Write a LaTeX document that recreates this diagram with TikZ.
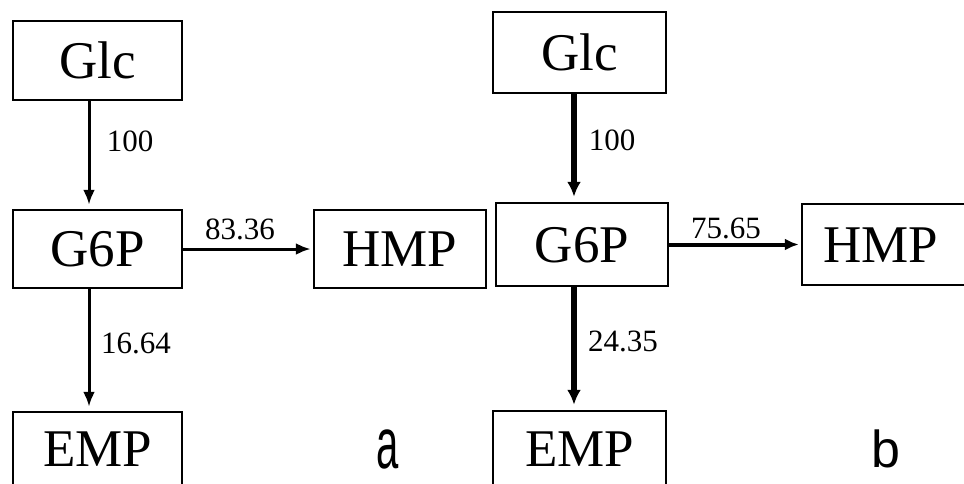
\documentclass[tikz,border=0pt]{standalone}
\usepackage{fontspec}
\setmainfont{Liberation Serif}
\newfontfamily\sansf{Liberation Sans}
\usetikzlibrary{arrows.meta}
\begin{document}
\begin{tikzpicture}[x=1pt,y=-1pt,
  box/.style={draw=black, line width=2.5pt, inner sep=0pt,
    font=\fontsize{53}{60}\selectfont, text height=35pt, text depth=0pt},
  flowA/.style={line width=3pt, -{Latex[length=15pt,width=12pt]}, shorten >=4pt},
  flowB/.style={line width=5.5pt, -{Latex[length=15pt,width=14pt]}, shorten >=5pt},
  flowBh/.style={line width=4pt, -{Latex[length=14pt,width=12pt]}, shorten >=2pt},
  val/.style={font=\fontsize{31}{36}\selectfont, inner sep=0pt},
  panel/.style={inner sep=0pt, font=\sansf\fontsize{40}{48}\selectfont},
]
\useasboundingbox (0,0) rectangle (964,483);
\clip (0,0) rectangle (964,483);
\fill[white] (0,0) rectangle (964,483);

% panel a
\node[box, minimum width=169pt, minimum height=79pt] (glcA) at (97.5,60.5) {Glc};
\node[box, minimum width=169pt, minimum height=78pt] (g6pA) at (97.5,249) {G6P};
\node[box, minimum width=172pt, minimum height=78pt] (hmpA) at (400,249) {HMP};
\node[box, minimum width=169pt, minimum height=74pt] (empA) at (97.5,449) {EMP};

\draw[flowA] ([xshift=-8.5pt]glcA.south) -- ([xshift=-8.5pt]g6pA.north);
\draw[flowA] ([xshift=-8.5pt]g6pA.south) -- ([xshift=-8.5pt]empA.north);
\draw[flowA, shorten >=2pt] (g6pA.east) -- (hmpA.west);

\node[val] (vA1) at (130,141) {100};
\node[val] (vA2) at (240,229) {83.36};
\node[val] (vA3) at (136,343) {16.64};
\node[panel] (la) at (388,449) {\scalebox{1}[1.8]{a}};

% panel b
\node[box, minimum width=173pt, minimum height=81pt] (glcB) at (579.5,52.5) {Glc};
\node[box, minimum width=172pt, minimum height=83pt] (g6pB) at (582,244.5) {G6P};
\node[box, minimum width=180pt, minimum height=81pt] (hmpB) at (892,244.5) {HMP\hspace*{22pt}};
\node[box, minimum width=173pt, minimum height=75pt] (empB) at (579.5,448.5) {EMP};

\draw[flowB] ([xshift=-5.5pt]glcB.south) -- ([xshift=-5.5pt]glcB.south |- g6pB.north);
\draw[flowB] ([xshift=-8pt]g6pB.south) -- ([xshift=-8pt]g6pB.south |- empB.north);
\draw[flowBh] (g6pB.east) -- (hmpB.west);

\node[val] (vB1) at (612,140) {100};
\node[val] (vB2) at (726,228) {75.65};
\node[val] (vB3) at (623,341) {24.35};
\node[panel, font=\sansf\fontsize{52}{60}\selectfont] (lb) at (886,449) {b};
\end{tikzpicture}
\end{document}
